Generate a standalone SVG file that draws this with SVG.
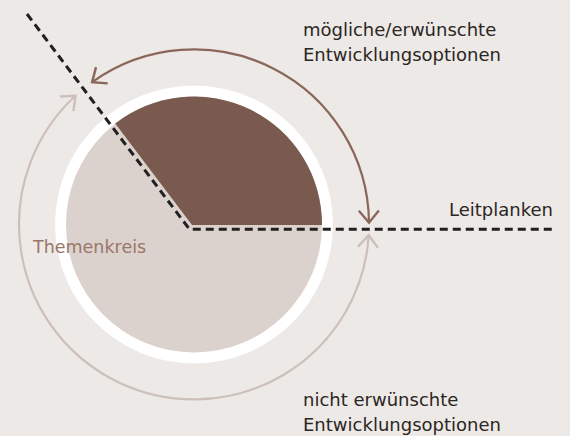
<svg xmlns="http://www.w3.org/2000/svg" width="570" height="436" viewBox="0 0 570 436">
<style>
.lbl{font-family:"DejaVu Sans","Liberation Sans",sans-serif;font-size:18px;fill:#2a2624}
.theme{font-family:"DejaVu Sans","Liberation Sans",sans-serif;font-size:17.5px;fill:#9a766a}
.arcB{fill:none;stroke:#8a6659;stroke-width:2.2}
.arcL{fill:none;stroke:#cdc0b9;stroke-width:2.2}
</style>
<defs>
<marker id="mB" markerUnits="userSpaceOnUse" markerWidth="30" markerHeight="30" viewBox="-15 -15 30 30" refX="0" refY="0" orient="auto-start-reverse" overflow="visible">
<path d="M-12,-10 L0,0 L-12,10" fill="none" stroke="#8a6659" stroke-width="2.4"/>
</marker>
<marker id="mL" markerUnits="userSpaceOnUse" markerWidth="30" markerHeight="30" viewBox="-15 -15 30 30" refX="0" refY="0" orient="auto-start-reverse" overflow="visible">
<path d="M-12,-10 L0,0 L-12,10" fill="none" stroke="#cdc0b9" stroke-width="2.4"/>
</marker>
</defs>
<rect width="570" height="436" fill="#ede9e6"/>
<g id="themenkreis">
<circle cx="194" cy="224.5" r="139" fill="#ffffff"/>
<circle cx="194" cy="224.5" r="128" fill="#dcd2cd"/>
<path d="M192,225 L322,225 A128,128 0 0 0 115.2,123.6 Z" fill="#7a5a4e"/>
<text class="theme" x="33" y="252.5">Themenkreis</text>
</g>
<g id="connectors">
<path class="arcB" d="M92.1,82.2 A175,175 0 0 1 369,222.7" marker-start="url(#mB)" marker-end="url(#mB)"/>
<path class="arcL" d="M75.5,95.7 A175,175 0 1 0 368.7,235.2" marker-start="url(#mL)" marker-end="url(#mL)"/>
</g>
<g id="leitplanken">
<polyline points="27,14 189.5,229.3 554,229.3" fill="none" stroke="#231f20" stroke-width="3" stroke-dasharray="8 5"/>
<text class="lbl" x="449" y="215.5">Leitplanken</text>
</g>
<g id="moegliche">
<text class="lbl" x="303" y="36">mögliche/erwünschte</text>
<text class="lbl" x="303" y="61">Entwicklungsoptionen</text>
</g>
<g id="nicht">
<text class="lbl" x="303" y="405.5">nicht erwünschte</text>
<text class="lbl" x="303" y="430.5">Entwicklungsoptionen</text>
</g>
</svg>
